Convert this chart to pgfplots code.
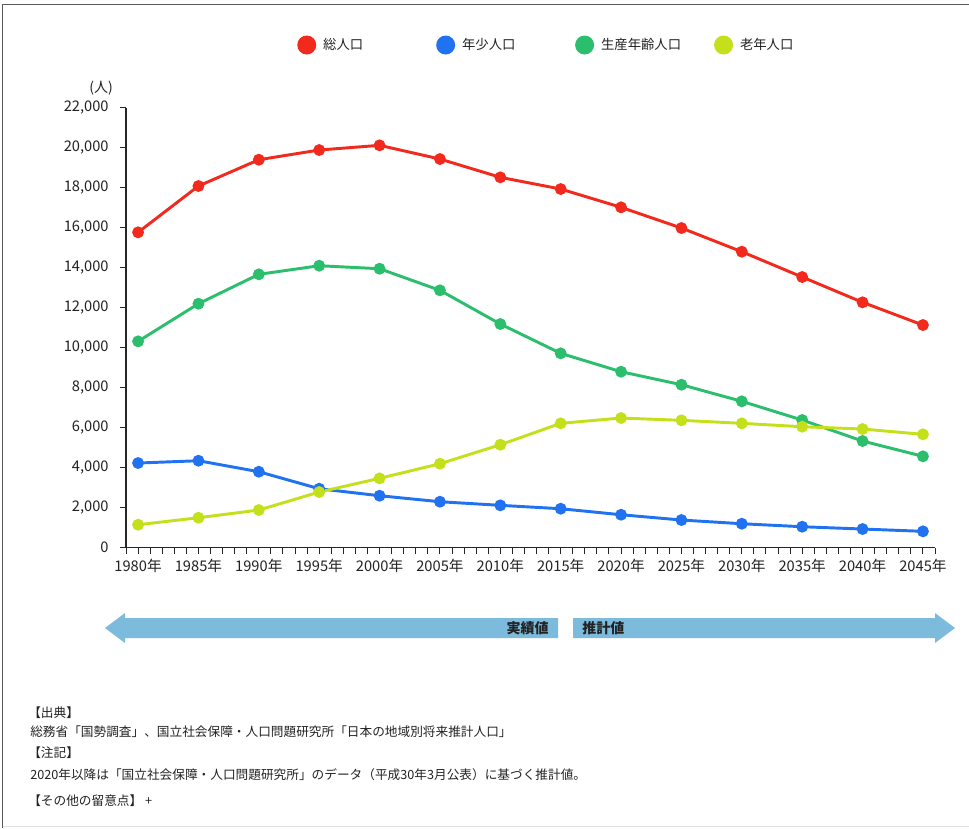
\documentclass[border=0pt]{standalone}
\usepackage{fontspec}
\setmainfont{Noto Sans CJK JP}
\usepackage{pgfplots}
\pgfplotsset{compat=1.18}
\definecolor{cRed}{HTML}{F22A1E}
\definecolor{cBlue}{HTML}{2172F0}
\definecolor{cGreen}{HTML}{2BBE6C}
\definecolor{cYellow}{HTML}{C4E01B}
\definecolor{cArrow}{HTML}{7DBBDC}
\definecolor{cText}{HTML}{222222}
\begin{document}
\begin{tikzpicture}
\begin{scope}[x=0.75pt,y=0.75pt]
\path[use as bounding box] (0,0) rectangle (969,828);
\draw[black!65, line width=1.4pt] (2.5,0) -- (2.5,823.5) -- (969,823.5);
\draw[black!12, line width=1pt] (2.5,1.5) -- (969,1.5);
% (人)
\node[font=\fontsize{10.5}{12}\selectfont, inner sep=0pt, text=cText] at (101,740) {(人)};
% arrows
\fill[cArrow] (105,200) -- (125,215) -- (125,210) -- (558,210) -- (558,190) -- (125,190) -- (125,185) -- cycle;
\fill[cArrow] (955,200) -- (935,215) -- (935,210) -- (573,210) -- (573,190) -- (935,190) -- (935,185) -- cycle;
\node[anchor=east, inner sep=0pt, font=\bfseries\fontsize{10.5}{12}\selectfont, text=cText] at (549,200) {実績値};
\node[anchor=west, inner sep=0pt, font=\bfseries\fontsize{10.5}{12}\selectfont, text=cText] at (582,200) {推計値};
% notes
\begin{scope}[every node/.style={anchor=west, inner sep=0pt, font=\fontsize{9.5}{11}\selectfont, text=cText}]
\node at (28,115) {【出典】};
\node at (30,96) {総務省「国勢調査」、国立社会保障・人口問題研究所「日本の地域別将来推計人口」};
\node at (28,75) {【注記】};
\node at (30,53) {2020年以降は「国立社会保障・人口問題研究所」のデータ（平成30年3月公表）に基づく推計値。};
\node at (28,27) {【その他の留意点】 +};
\end{scope}
\end{scope}
\begin{axis}[
  at={(94.5pt,210.2pt)}, anchor=south west,
  scale only axis, width=606.75pt, height=330pt,
  axis x line*=bottom, axis y line*=left,
  axis line style={black!85, line width=0.9pt, -},
  xmin=1979, xmax=2046, ymin=0, ymax=22000,
  xtick={1980,1985,...,2045},
  xticklabels={1980年,1985年,1990年,1995年,2000年,2005年,2010年,2015年,2020年,2025年,2030年,2035年,2040年,2045年},
  minor xtick={1979,1980,...,2046},
  ytick={0,2000,...,22000},
  scaled y ticks=false,
  tick align=outside, major tick length=4.5pt, minor tick length=4.5pt,
  tick style={black!85, line width=0.75pt},
  ticklabel style={font=\fontsize{11}{13}\selectfont, text=cText},
  yticklabel style={/pgf/number format/.cd, fixed, precision=0, 1000 sep={,}, assume math mode=true, /tikz/.cd, xshift=-5pt},
  xticklabel style={yshift=-0.5pt},
  clip=false,
  legend columns=4,
  legend style={at={(axis description cs:0.2114,1.1425)}, anchor=west, draw=none, fill=none, inner sep=0pt,
    /tikz/every even column/.append style={column sep=0pt},
    nodes={inner sep=0pt, font=\fontsize{10}{12}\selectfont, text=cText}},
  legend image code/.code={\fill (6pt,0pt) circle (6pt);},
]
\addplot[color=cRed, line width=2.2pt, mark=*, mark size=3.3pt] coordinates {
(1980,15770) (1985,18085) (1990,19400) (1995,19885) (2000,20120) (2005,19435) (2010,18520)
(2015,17935) (2020,17020) (2025,15985) (2030,14800) (2035,13535) (2040,12270) (2045,11135)};
\addlegendentry{\hspace{5.25pt}\makebox[84.75pt][l]{総人口}}
\addplot[color=cBlue, line width=2.2pt, mark=*, mark size=3.3pt] coordinates {
(1980,4235) (1985,4350) (1990,3800) (1995,2950) (2000,2600) (2005,2300) (2010,2120)
(2015,1950) (2020,1650) (2025,1385) (2030,1200) (2035,1050) (2040,935) (2045,820)};
\addlegendentry{\hspace{5.25pt}\makebox[84.75pt][l]{年少人口}}
\addplot[color=cGreen, line width=2.2pt, mark=*, mark size=3.3pt] coordinates {
(1980,10320) (1985,12200) (1990,13670) (1995,14100) (2000,13950) (2005,12870) (2010,11185)
(2015,9720) (2020,8800) (2025,8150) (2030,7320) (2035,6385) (2040,5335) (2045,4570)};
\addlegendentry{\hspace{5.25pt}\makebox[84.75pt][l]{生産年齢人口}}
\addplot[color=cYellow, line width=2.2pt, mark=*, mark size=3.3pt] coordinates {
(1980,1150) (1985,1500) (1990,1885) (1995,2785) (2000,3470) (2005,4200) (2010,5150)
(2015,6220) (2020,6485) (2025,6370) (2030,6220) (2035,6050) (2040,5935) (2045,5670)};
\addlegendentry{\hspace{5.25pt}老年人口}
\end{axis}
\end{tikzpicture}
\end{document}
